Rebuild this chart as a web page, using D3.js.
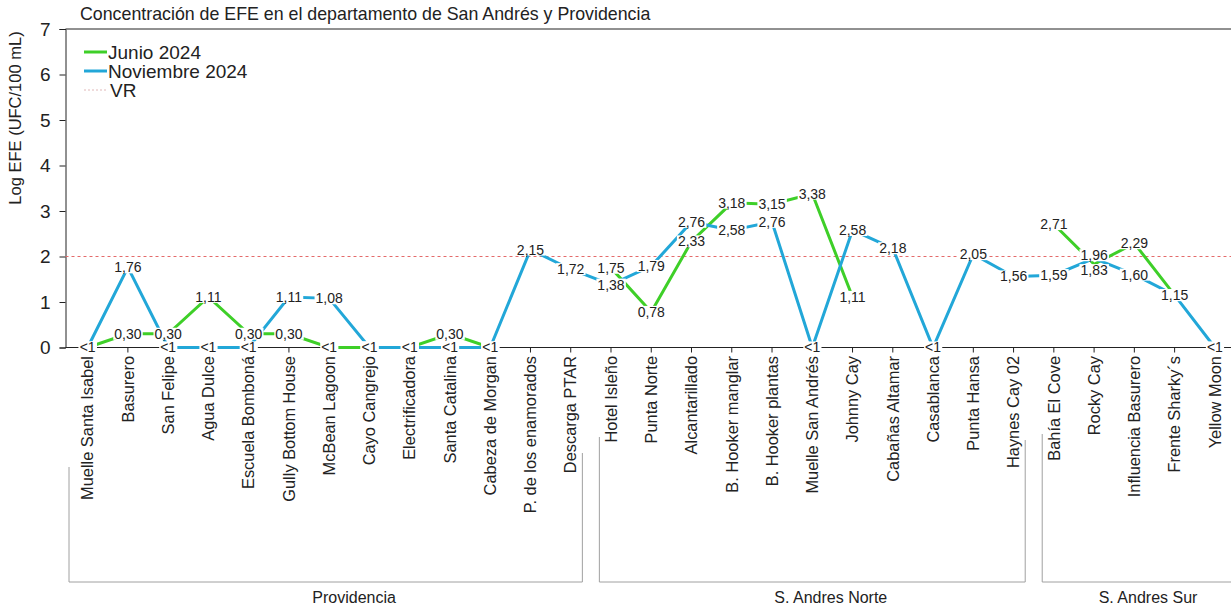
<!DOCTYPE html>
<html>
<head>
<meta charset="utf-8">
<script src="https://cdn.jsdelivr.net/npm/d3@7"></script>
<style>
  body { margin: 0; background: #fff; }
  text { font-family: "Liberation Sans", Arial, sans-serif; fill: #222; }
</style>
</head>
<body>
<div class="chart"></div>
<script>
// stations, in the order they appear on the x axis
var categories = ["Muelle Santa Isabel", "Basurero", "San Felipe", "Agua Dulce", "Escuela Bomboná",
  "Gully Bottom House", "McBean Lagoon", "Cayo Cangrejo", "Electrificadora", "Santa Catalina",
  "Cabeza de Morgan", "P. de los enamorados", "Descarga PTAR",
  "Hotel Isleño", "Punta Norte", "Alcantarillado", "B. Hooker manglar", "B. Hooker plantas",
  "Muelle San Andrés", "Johnny Cay", "Cabañas Altamar", "Casablanca", "Punta Hansa", "Haynes Cay 02",
  "Bahía El Cove", "Rocky Cay", "Influencia Basurero", "Frente Sharky´s", "Yellow Moon"];

// log EFE values (0 = "<1", null = no sample)
var junio = [0, 0.30, 0.30, 1.11, 0.30, 0.30, 0, 0, 0, 0.30, 0, null, null,
  1.75, 0.78, 2.33, 3.18, 3.15, 3.38, 1.11, null, null, null, null,
  2.71, 1.83, 2.29, 1.15, null];
var noviembre = [0, 1.76, 0, 0, 0, 1.11, 1.08, 0, 0, 0, 0, 2.15, 1.72,
  1.38, 1.79, 2.76, 2.58, 2.76, 0, 2.58, 2.18, 0, 2.05, 1.56,
  1.59, 1.96, 1.60, 1.15, 0];

var yTicks = [0, 1, 2, 3, 4, 5, 6, 7];
var vr = 2;

// zones: name, first and last station index
var groupNames = ["Providencia", "S. Andres Norte", "S. Andres Sur"];
var groupStart = [0, 13, 24];
var groupEnd = [12, 23, 28];

var series = [
  { name: "Junio 2024", values: junio, color: "#3ecf28" },
  { name: "Noviembre 2024", values: noviembre, color: "#22a7d8" }
];

// layout bits (bracket tops and label spots)
var bracketTops = [[467, 453], [437, 440], [434, 434]];
var groupLabelAt = [7.12, 18.96, 26.84];
// labels that were nudged apart in the original (series, index, dy)
var labelNudge = [[0, 25, 6], [1, 25, -3]];

var svgWidth = 1231;
var svgHeight = 607;

var svg = d3.select(".chart")
  .append("svg")
  .attr("width", svgWidth)
  .attr("height", svgHeight);

// scales
var xScale = d3.scaleBand()
  .domain(categories)
  .range([67.5, 1235]);
var xc = d => xScale(d) + xScale.bandwidth() / 2;

var yScale = d3.scaleLinear()
  .domain([0, 7])
  .range([347.5, 29]);

var plotLeft = 65.5;

// title
svg.append("text")
  .attr("x", 80)
  .attr("y", 20)
  .style("font-size", "17.8px")
  .text("Concentración de EFE en el departamento de San Andrés y Providencia");

// top border
svg.append("line")
  .attr("x1", plotLeft).attr("x2", svgWidth)
  .attr("y1", yScale(7)).attr("y2", yScale(7))
  .attr("stroke", "#222");

// y axis
var yAxis = svg.append("g")
  .attr("transform", `translate(${plotLeft}, 0)`)
  .call(d3.axisLeft(yScale).tickValues(yTicks).tickSize(6).tickFormat(d3.format("d")));
yAxis.select(".domain").attr("stroke", "#222");
yAxis.selectAll(".tick line").attr("stroke", "#222");
yAxis.selectAll("text")
  .attr("x", -15)
  .style("font-size", "19px")
  .style("font-family", "Liberation Sans, Arial, sans-serif")
  .attr("fill", "#222");

svg.append("text")
  .attr("transform", "translate(21, 118) rotate(-90)")
  .attr("text-anchor", "middle")
  .style("font-size", "16.5px")
  .text("Log EFE (UFC/100 mL)");

// x axis line and ticks
svg.append("line")
  .attr("x1", plotLeft).attr("x2", svgWidth)
  .attr("y1", yScale(0)).attr("y2", yScale(0))
  .attr("stroke", "#222");

svg.append("g").selectAll("line")
  .data(categories)
  .enter()
  .append("line")
  .attr("x1", d => xc(d)).attr("x2", d => xc(d))
  .attr("y1", yScale(0)).attr("y2", yScale(0) + 5)
  .attr("stroke", "#222");

// station labels
svg.append("g").selectAll("text")
  .data(categories)
  .enter()
  .append("text")
  .attr("transform", d => `translate(${xc(d)}, 356) rotate(-90)`)
  .attr("text-anchor", "end")
  .attr("dy", "0.35em")
  .style("font-size", "16.4px")
  .text(d => d);

// VR reference line
svg.append("line")
  .attr("x1", plotLeft).attr("x2", svgWidth)
  .attr("y1", yScale(vr)).attr("y2", yScale(vr))
  .attr("stroke", "#e46b6b")
  .attr("stroke-width", 1)
  .attr("stroke-dasharray", "3,3");

// series lines
var line = d3.line()
  .defined(d => d.v !== null)
  .x(d => xc(d.c))
  .y(d => yScale(d.v));

series.forEach(s => {
  var pts = categories.map((c, i) => ({ c: c, v: s.values[i] }));
  svg.append("path")
    .datum(pts)
    .attr("fill", "none")
    .attr("stroke", s.color)
    .attr("stroke-width", 3)
    .attr("d", line);
});

// data labels, centred on the points with a white box
var fmt = v => v === 0 ? "<1" : d3.format(".2f")(v).replace(".", ",");

series.forEach((s, si) => {
  var pts = categories.map((c, i) => {
    var n = labelNudge.find(k => k[0] === si && k[1] === i);
    return { c: c, v: s.values[i], dy: n ? n[2] : 0 };
  }).filter(d => d.v !== null);
  var g = svg.append("g").selectAll("g")
    .data(pts)
    .enter()
    .append("g")
    .attr("transform", d => `translate(${xc(d.c)}, ${yScale(d.v) + d.dy})`);
  var t = g.append("text")
    .attr("text-anchor", "middle")
    .attr("dy", "0.35em")
    .style("font-size", "14px")
    .text(d => fmt(d.v));
  t.each(function () {
    var b = this.getBBox();
    d3.select(this.parentNode).insert("rect", "text")
      .attr("x", b.x - 1).attr("y", b.y + 2)
      .attr("width", b.width + 2).attr("height", b.height - 4)
      .attr("fill", "#fff");
  });
});

// zone brackets
var step = xScale.step();
var x0 = xScale(categories[0]);
groupNames.forEach((name, i) => {
  var left = i === 0 ? x0 + 1.5 : xScale(categories[groupStart[i]]) + 8.5;
  var right = i === groupNames.length - 1 ? svgWidth + 20 : xScale(categories[groupEnd[i]]) + step - 8.5;
  var bottom = 582;
  svg.append("path")
    .attr("d", `M${left},${bracketTops[i][0]}V${bottom}H${right}V${bracketTops[i][1]}`)
    .attr("fill", "none")
    .attr("stroke", "#a0a0a0")
    .attr("stroke-width", 1);
  svg.append("text")
    .attr("x", x0 + groupLabelAt[i] * step)
    .attr("y", 603)
    .attr("text-anchor", "middle")
    .style("font-size", "16px")
    .text(name);
});

// legend
var legend = svg.append("g").attr("transform", "translate(84, 52)");
series.forEach((s, i) => {
  legend.append("line")
    .attr("x1", 0).attr("x2", 23)
    .attr("y1", i * 19).attr("y2", i * 19)
    .attr("stroke", s.color)
    .attr("stroke-width", 3);
  legend.append("text")
    .attr("x", 24)
    .attr("y", i * 19)
    .attr("dy", "0.35em")
    .style("font-size", "19px")
    .text(s.name);
});
legend.append("line")
  .attr("x1", 0).attr("x2", 23)
  .attr("y1", 38).attr("y2", 38)
  .attr("stroke", "#e0b8b8")
  .attr("stroke-dasharray", "2,2");
legend.append("text")
  .attr("x", 26)
  .attr("y", 38)
  .attr("dy", "0.35em")
  .style("font-size", "19px")
  .text("VR");
</script>
</body>
</html>
